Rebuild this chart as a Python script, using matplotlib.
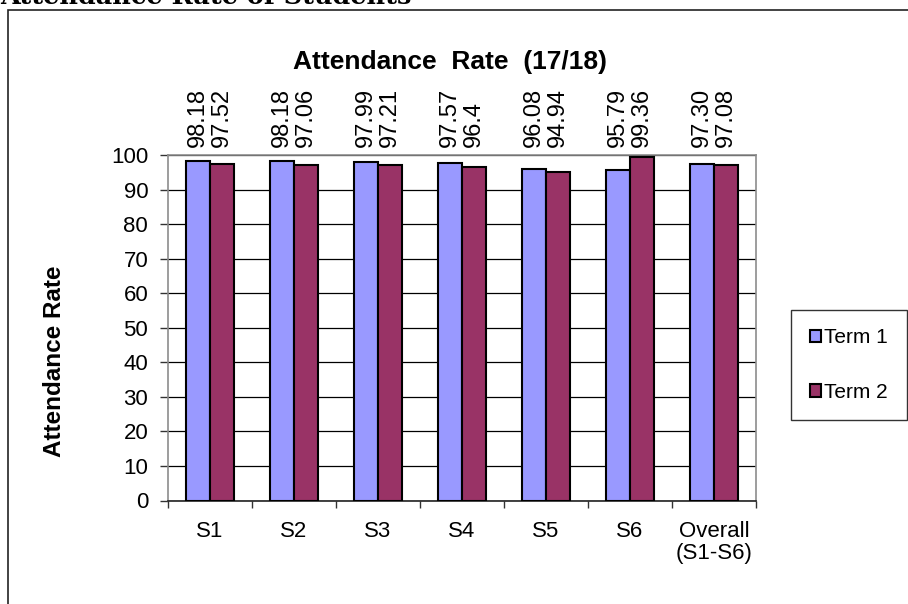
import matplotlib
matplotlib.use("Agg")
import matplotlib.pyplot as plt
from matplotlib.patches import Patch, Rectangle
import numpy as np

plt.rcParams['font.family'] = ['Liberation Sans', 'DejaVu Sans']

# data
categories = ["S1", "S2", "S3", "S4", "S5", "S6", "Overall\n(S1-S6)"]
term1 = [98.18, 98.18, 97.99, 97.57, 96.08, 95.79, 97.30]
term2 = [97.52, 97.06, 97.21, 96.4, 94.94, 99.36, 97.08]
term1_labels = ["98.18", "98.18", "97.99", "97.57", "96.08", "95.79", "97.30"]
term2_labels = ["97.52", "97.06", "97.21", "96.4", "94.94", "99.36", "97.08"]
series_names = ["Term 1", "Term 2"]
yticks = list(range(0, 101, 10))

W, H = 908, 604
fig = plt.figure(figsize=(W / 100, H / 100), dpi=100)

# pixel helper for figure placement
def fx(px):
    return px / W

def fy(py):
    return 1 - py / H

# outer frame and cut-off page heading
fig.add_artist(Rectangle((fx(8), -0.05), 1.2, fy(10) + 0.05, transform=fig.transFigure,
                         fill=False, edgecolor="#222222", linewidth=1.2))
fig.text(0, fy(4), "Attendance Rate of Students", family="DejaVu Serif",
         weight="bold", fontsize=18.4, ha="left", va="baseline")

ax = fig.add_axes([fx(168), fy(500.5), fx(756) - fx(168), (500.5 - 155) / H])

n = len(categories)
centers = np.arange(n) + 0.5
bw = 0.28
c1, c2 = "#9999FF", "#993366"

ax.bar(centers - bw / 2, term1, bw, color=c1, edgecolor="black", linewidth=1.5, zorder=3)
ax.bar(centers + bw / 2, term2, bw, color=c2, edgecolor="black", linewidth=1.5, zorder=3)

# data labels, vertical, above the plot area
for x, lab in zip(centers - bw / 2, term1_labels):
    ax.annotate(lab, xy=(x, 100), xytext=(0, 5.5), textcoords="offset points",
                rotation=90, ha="center", va="bottom", fontsize=17, annotation_clip=False)
for x, lab in zip(centers + bw / 2, term2_labels):
    ax.annotate(lab, xy=(x, 100), xytext=(0, 5.5), textcoords="offset points",
                rotation=90, ha="center", va="bottom", fontsize=17, annotation_clip=False)

ax.set_xlim(0, n)
ax.set_ylim(0, 100)
ax.set_yticks(yticks)
ax.tick_params(axis="y", labelsize=16, length=5.8, width=1, color="#333333", pad=8.5)
ax.yaxis.grid(True, color="black", linewidth=0.9)
ax.set_axisbelow(True)

ax.set_xticks(centers)
ax.set_xticklabels(categories, linespacing=1.1)
ax.tick_params(axis="x", which="major", length=0, labelsize=16, pad=14.5)
ax.set_xticks(np.arange(n + 1), minor=True)
ax.tick_params(axis="x", which="minor", length=5, width=1, color="#333333")

for side in ["top", "right", "left"]:
    ax.spines[side].set_color("#8c8c8c")
    ax.spines[side].set_linewidth(1.2)
ax.spines["bottom"].set_color("#222222")
ax.spines["bottom"].set_linewidth(1.2)

fig.text(fx(450), fy(69), "Attendance  Rate  (17/18)", ha="center", va="baseline",
         fontsize=19, weight="bold")
fig.text(fx(55), fy(361), "Attendance Rate", rotation=90, ha="center", va="center",
         fontsize=17.5, weight="bold")

handles = [Patch(facecolor=c1, edgecolor="black", linewidth=1.5),
           Patch(facecolor=c2, edgecolor="black", linewidth=1.5)]
leg = fig.legend(handles, series_names, loc="center", bbox_to_anchor=(fx(849), fy(365)),
                 fontsize=15, frameon=True, fancybox=False, edgecolor="black",
                 handlelength=0.55, handleheight=0.55, handletextpad=0.15,
                 labelspacing=1.7, borderpad=0.9, borderaxespad=0)
leg.get_frame().set_linewidth(1)

fig.savefig("out.png", dpi=100)
